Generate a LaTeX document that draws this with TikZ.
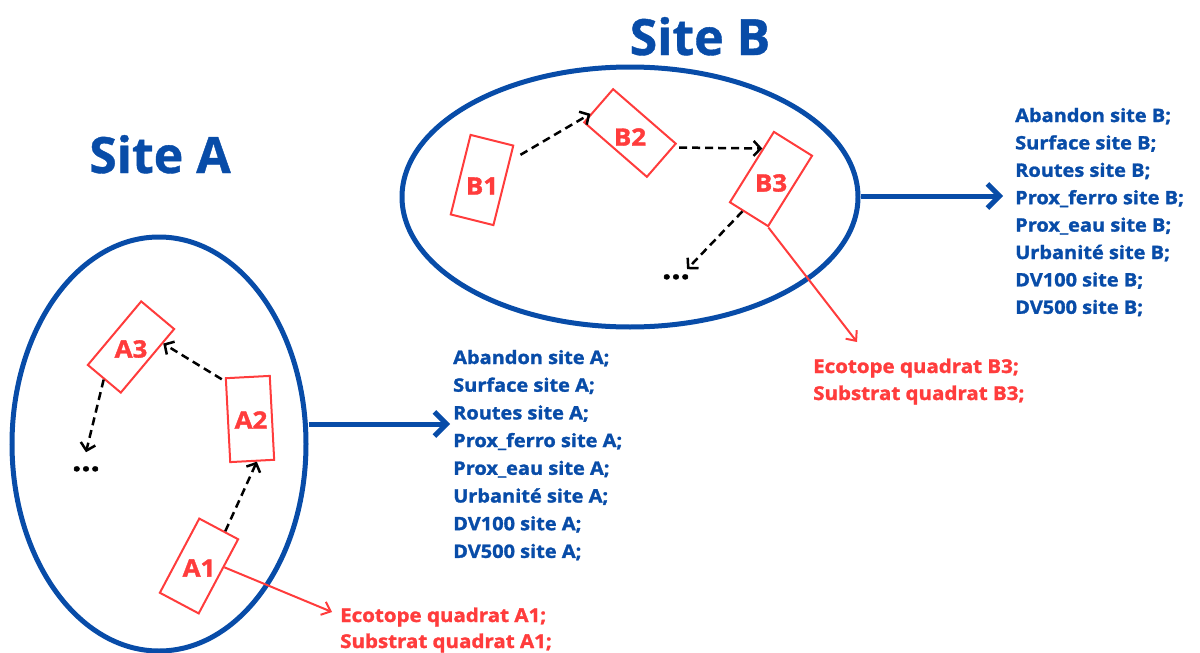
\documentclass[tikz,border=0pt]{standalone}
\usepackage{fontspec}
\setmainfont{Open Sans}[BoldFeatures={FakeBold=1.5,FakeStretch=1.08}]
\newfontfamily\titlefont{Open Sans}[BoldFeatures={FakeBold=0.8}]
\usetikzlibrary{arrows.meta,shapes.geometric,calc}
\definecolor{siteblue}{RGB}{8,76,168}
\definecolor{quadred}{RGB}{255,60,60}
\begin{document}
\begin{tikzpicture}[x=1pt,y=-1pt,
  site/.style={draw=siteblue,line width=5pt,ellipse,inner sep=0pt},
  quad/.style={draw=quadred,line width=2pt,rectangle,inner sep=0pt},
  qlabel/.style={text=quadred,font=\fontsize{24}{28}\selectfont\bfseries,inner sep=0pt},
  sitetitle/.style={text=siteblue,font=\titlefont\fontsize{50}{56}\selectfont\bfseries,inner sep=0pt,anchor=base},
  info/.style={text=siteblue,font=\fontsize{18.5}{22}\selectfont\bfseries,inner sep=0pt,anchor=base west},
  eco/.style={text=quadred,font=\fontsize{19}{22}\selectfont\bfseries,inner sep=0pt,anchor=base west},
  dotstyle/.style={font=\fontsize{30}{32}\selectfont\bfseries,inner sep=0pt,anchor=base},
  dasharrow/.style={draw=black,line width=2.5pt,dash pattern=on 8pt off 5pt,-{Straight Barb[length=7pt,width=15pt]}},
  bluearrow/.style={draw=siteblue,line width=5pt,-{Straight Barb[length=12pt,width=24pt]}},
  redarrow/.style={draw=quadred,line width=2pt,-{Straight Barb[length=8pt,width=14pt]}},
]
\useasboundingbox (0,0) rectangle (1200,653);

% Sites
\node[site,minimum width=294,minimum height=414] (siteA) at (159,444) {};
\node[site,minimum width=456,minimum height=260] (siteB) at (630,197) {};
\node[sitetitle] (titleA) at (160,173) {Site A};
\node[sitetitle] (titleB) at (700,55) {Site B};

% Quadrats site A
\node[quad,minimum width=83,minimum height=43,rotate=50] (A3) at (131,347) {};
\node[quad,minimum width=44,minimum height=84,rotate=3] (A2) at (250,419) {};
\node[quad,minimum width=44,minimum height=84,rotate=-28] (A1) at (199,566) {};
\node[qlabel] (lA3) at (131,349) {A3};
\node[qlabel] (lA2) at (251,420) {A2};
\node[qlabel] (lA1) at (199,568) {A1};
\node[dotstyle] (dotsA) at (86,471) {...};

% Quadrats site B
\node[quad,minimum width=44,minimum height=82,rotate=-14] (B1) at (482,180) {};
\node[quad,minimum width=83,minimum height=44,rotate=-41] (B2) at (630,133) {};
\node[quad,minimum width=45,minimum height=83,rotate=-32] (B3) at (771,179) {};
\node[qlabel] (lB1) at (482,186) {B1};
\node[qlabel] (lB2) at (630,137) {B2};
\node[qlabel] (lB3) at (771,183) {B3};
\node[dotstyle] (dotsB) at (676,279) {...};

% Dashed sequence arrows
\draw[dasharrow] ($(A1.north)!0.3!(A1.north east)$) -- ($(A2.south)!0.2!(A2.south east)$);
\draw[dasharrow] ([shift={(-3,2)}]A2.north west) -- ($(A3.south)!0.55!(A3.south east)$);
\draw[dasharrow] (A3.west) -- ([yshift=14pt]dotsA.north);
\draw[dasharrow] ([shift={(6,10)}]B1.north east) -- ($(B2.west)!0.5!(B2.south west)$);
\draw[dasharrow] ([shift={(2,4)}]B2.north east) -- ($(B3.north west)!0.5!(B3.west)$);
\draw[dasharrow] ($(B3.south)!0.3!(B3.south west)$) -- ([shift={(-3,-5)}]dotsB.north east);

% Info lists
\foreach \t [count=\i from 0] in {Abandon site A;,Surface site A;,Routes site A;,Prox\_ferro site A;,Prox\_eau site A;,Urbanité site A;,DV100 site A;,DV500 site A;}
  \node[info] (infoA\i) at (453,364+27.7*\i) {\t};
\foreach \t [count=\i from 0] in {Abandon site B;,Surface site B;,Routes site B;,Prox\_ferro site B;,Prox\_eau site B;,Urbanité site B;,DV100 site B;,DV500 site B;}
  \node[info] (infoB\i) at (1015,122+27.4*\i) {\t};

\coordinate (tipSA) at (450,424);
\coordinate (tipSB) at (1003,196);
\draw[bluearrow] (siteA.east |- tipSA) -- (tipSA);
\draw[bluearrow] (siteB.east |- tipSB) -- (tipSB);

% Quadrat info
\node[eco] (ecoA1) at (340,622) {Ecotope quadrat A1;};
\node[eco] (subA1) at (340,648) {Substrat quadrat A1;};
\node[eco] (ecoB3) at (813,373) {Ecotope quadrat B3;};
\node[eco] (subB3) at (813,400) {Substrat quadrat B3;};
\coordinate (tipA1) at (332,612);
\coordinate (tipB3) at (857,342);
\draw[redarrow] ($(A1.east)!0.25!(A1.north east)$) -- (tipA1);
\draw[redarrow] (B3.south east) -- (tipB3);
\end{tikzpicture}
\end{document}
